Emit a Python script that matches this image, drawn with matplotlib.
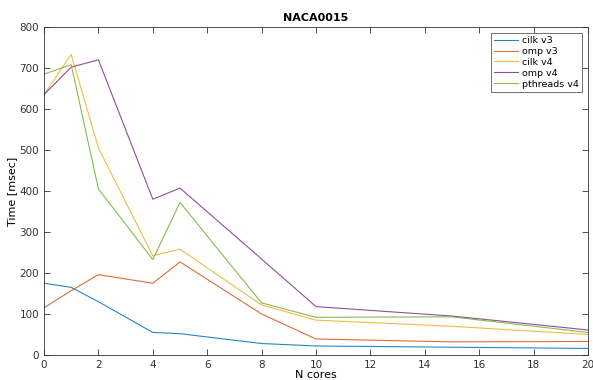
import matplotlib
matplotlib.use("Agg")
import matplotlib.pyplot as plt

cores = [0, 1, 2, 4, 5, 8, 10, 15, 20]
cilk_v3 = [175, 165, 130, 55, 52, 28, 22, 19, 16]
omp_v3 = [115, 157, 196, 175, 227, 100, 39, 32, 33]
cilk_v4 = [635, 733, 505, 242, 258, 122, 85, 70, 50]
omp_v4 = [635, 702, 720, 380, 407, 234, 118, 95, 61]
pthreads_v4 = [685, 708, 405, 233, 372, 127, 92, 93, 55]

series = [
    ("cilk v3", cilk_v3, "#0072BD"),
    ("omp v3", omp_v3, "#D95319"),
    ("cilk v4", cilk_v4, "#EDB120"),
    ("omp v4", omp_v4, "#7E2F8E"),
    ("pthreads v4", pthreads_v4, "#77AC30"),
]

fig = plt.figure(figsize=(5.93, 3.80), dpi=100)
ax = fig.add_axes([0.0742, 0.0658, 0.9174, 0.8632])

for name, vals, col in series:
    ax.plot(cores, vals, color=col, lw=0.8, alpha=0.85, label=name)

ax.set_xlim(0, 20)
ax.set_ylim(0, 800)
ax.set_xticks(range(0, 21, 2))
ax.set_yticks(range(0, 801, 100))
ax.tick_params(direction="in", top=True, right=True, labelsize=7.5,
               colors="#333333", length=4, width=0.6)
for s in ax.spines.values():
    s.set_color("#333333")
    s.set_linewidth(0.6)

ax.set_title("NACA0015", fontsize=8, fontweight="bold", pad=4)
ax.set_xlabel("N cores", fontsize=8, labelpad=0)
ax.set_ylabel("Time [msec]", fontsize=8, labelpad=2)

leg = ax.legend(loc="upper right", fontsize=6.8, frameon=True, fancybox=False,
                handlelength=2.6, handletextpad=0.4, borderaxespad=0.6,
                labelspacing=0.2, borderpad=0.35)
leg.get_frame().set_edgecolor("#333333")
leg.get_frame().set_linewidth(0.6)

fig.savefig("out.png", dpi=100)
